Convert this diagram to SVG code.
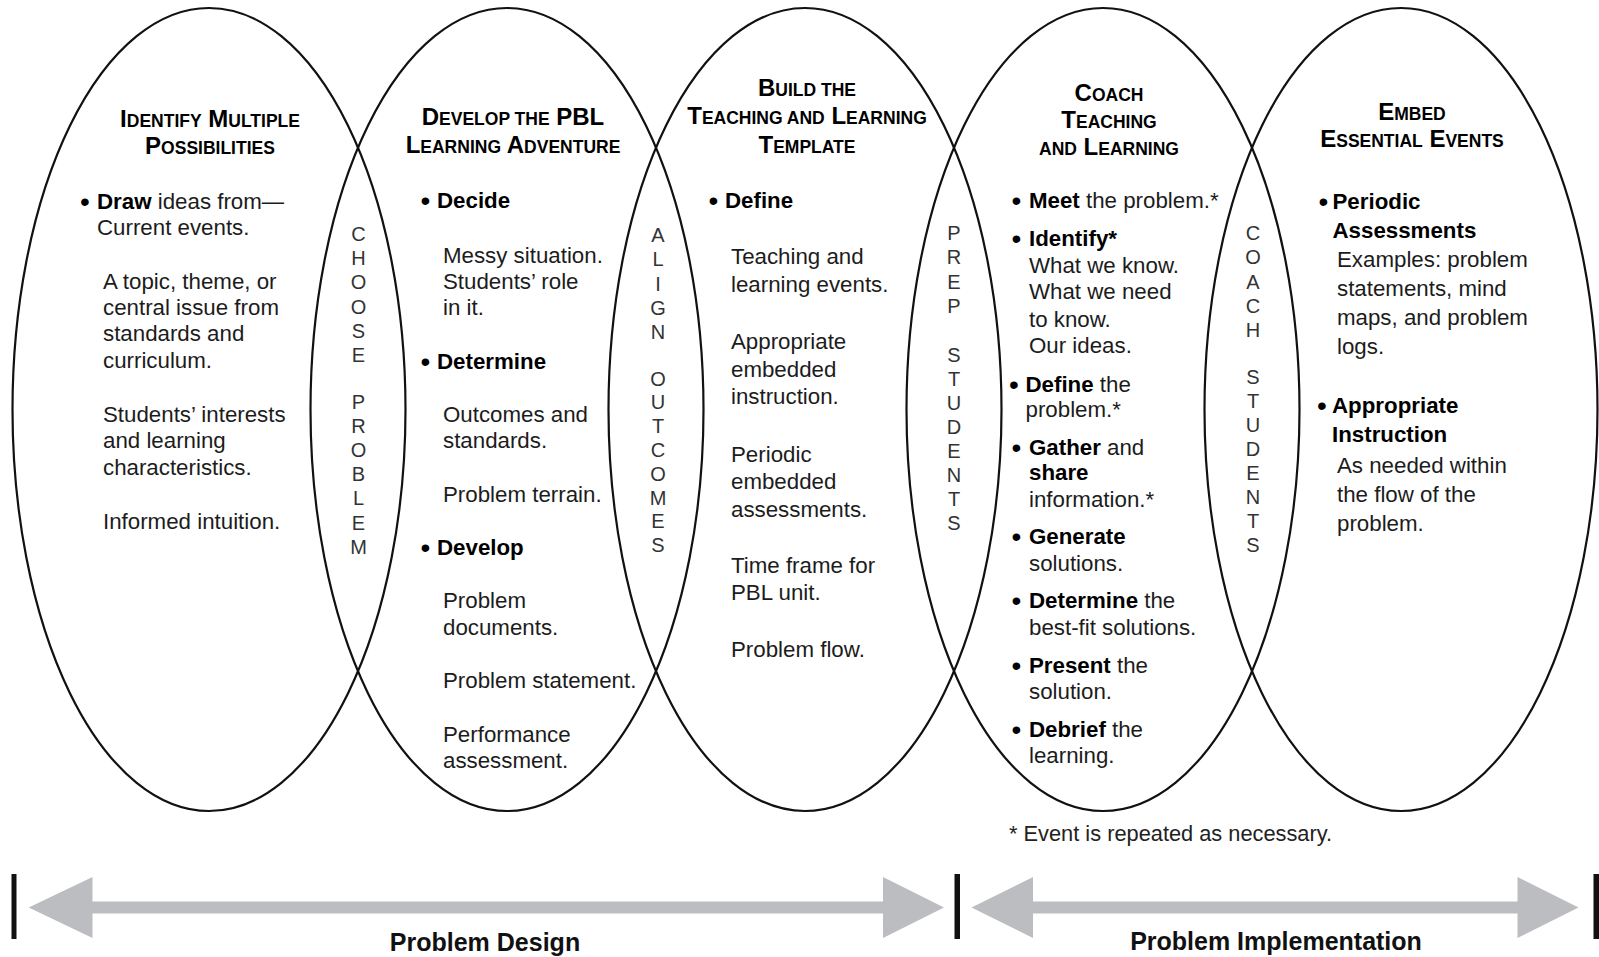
<svg xmlns="http://www.w3.org/2000/svg" width="1599" height="957" viewBox="0 0 1599 957">
  <style>
    .ring { fill: none; stroke: #111; stroke-width: 2.2; }
    .t { font-family: "Liberation Sans", Arial, sans-serif; font-size: 22.3px; fill: #1c1c1c; }
    .k { font-weight: bold; fill: #000; }
    .dot { font-family: "Liberation Sans", Arial, sans-serif; font-size: 28px; fill: #000; }
    .h { font-family: "Liberation Sans", Arial, sans-serif; font-weight: bold; font-size: 24px; fill: #000; text-anchor: middle; }
    .sc { font-size: 17.5px; }
    .v { font-family: "Liberation Sans", Arial, sans-serif; font-size: 20px; fill: #333; text-anchor: middle; }
    .bar { fill: #bcbdc0; }
    .tick { fill: #111; }
    .lbl { font-family: "Liberation Sans", Arial, sans-serif; font-weight: bold; font-size: 25px; fill: #111; text-anchor: middle; }
    .note { font-family: "Liberation Sans", Arial, sans-serif; font-size: 21.8px; fill: #222; }
  </style>

  <!-- Stage 1 -->
  <g id="identify">
    <ellipse class="ring" cx="209" cy="409.5" rx="196.5" ry="401.5"/>
    <text class="h" x="210" y="127">I<tspan class="sc">DENTIFY</tspan> M<tspan class="sc">ULTIPLE</tspan></text>
    <text class="h" x="210" y="154">P<tspan class="sc">OSSIBILITIES</tspan></text>
    <text class="dot" x="80" y="210.5">•</text>
    <text class="t" x="97" y="208.5"><tspan class="k">Draw</tspan> ideas from—</text>
    <text class="t" x="97" y="235">Current events.</text>
    <text class="t" x="103" y="289">A topic, theme, or</text>
    <text class="t" x="103" y="315">central issue from</text>
    <text class="t" x="103" y="341">standards and</text>
    <text class="t" x="103" y="367.5">curriculum.</text>
    <text class="t" x="103" y="421.5">Students’ interests</text>
    <text class="t" x="103" y="448">and learning</text>
    <text class="t" x="103" y="474.5">characteristics.</text>
    <text class="t" x="103" y="528.5">Informed intuition.</text>
  </g>

  <!-- Stage 2 -->
  <g id="develop">
    <ellipse class="ring" cx="507" cy="409.5" rx="196.5" ry="401.5"/>
    <text class="h" x="513" y="125">D<tspan class="sc">EVELOP THE</tspan> PBL</text>
    <text class="h" x="513" y="153">L<tspan class="sc">EARNING</tspan> A<tspan class="sc">DVENTURE</tspan></text>
    <text class="dot" x="420.5" y="210">•</text>
    <text class="t k" x="437" y="208">Decide</text>
    <text class="t" x="443" y="262.5">Messy situation.</text>
    <text class="t" x="443" y="289">Students’ role</text>
    <text class="t" x="443" y="314.5">in it.</text>
    <text class="dot" x="420.5" y="371">•</text>
    <text class="t k" x="437" y="369">Determine</text>
    <text class="t" x="443" y="421.7">Outcomes and</text>
    <text class="t" x="443" y="448">standards.</text>
    <text class="t" x="443" y="501.7">Problem terrain.</text>
    <text class="dot" x="420.5" y="557">•</text>
    <text class="t k" x="437" y="555">Develop</text>
    <text class="t" x="443" y="608">Problem</text>
    <text class="t" x="443" y="634.5">documents.</text>
    <text class="t" x="443" y="688">Problem statement.</text>
    <text class="t" x="443" y="741.7">Performance</text>
    <text class="t" x="443" y="767.5">assessment.</text>
  </g>

  <!-- Stage 3 -->
  <g id="build">
    <ellipse class="ring" cx="805" cy="409.5" rx="196.5" ry="401.5"/>
    <text class="h" x="807" y="96">B<tspan class="sc">UILD THE</tspan></text>
    <text class="h" x="807" y="124">T<tspan class="sc">EACHING AND</tspan> L<tspan class="sc">EARNING</tspan></text>
    <text class="h" x="807" y="153">T<tspan class="sc">EMPLATE</tspan></text>
    <text class="dot" x="708.5" y="210">•</text>
    <text class="t k" x="725" y="208">Define</text>
    <text class="t" x="731" y="264">Teaching and</text>
    <text class="t" x="731" y="291.5">learning events.</text>
    <text class="t" x="731" y="349">Appropriate</text>
    <text class="t" x="731" y="376.7">embedded</text>
    <text class="t" x="731" y="404">instruction.</text>
    <text class="t" x="731" y="461.7">Periodic</text>
    <text class="t" x="731" y="489.3">embedded</text>
    <text class="t" x="731" y="516.7">assessments.</text>
    <text class="t" x="731" y="573.3">Time frame for</text>
    <text class="t" x="731" y="600">PBL unit.</text>
    <text class="t" x="731" y="656.7">Problem flow.</text>
  </g>

  <!-- Stage 4 -->
  <g id="coach">
    <ellipse class="ring" cx="1103" cy="409.5" rx="196.5" ry="401.5"/>
    <text class="h" x="1109" y="101">C<tspan class="sc">OACH</tspan></text>
    <text class="h" x="1109" y="128">T<tspan class="sc">EACHING</tspan></text>
    <text class="h" x="1109" y="155"><tspan class="sc">AND</tspan> L<tspan class="sc">EARNING</tspan></text>
    <text class="dot" x="1011.5" y="210.3">•</text>
    <text class="t" x="1029" y="208.3"><tspan class="k">Meet</tspan> the problem.*</text>
    <text class="dot" x="1011.5" y="248">•</text>
    <text class="t k" x="1029" y="246">Identify*</text>
    <text class="t" x="1029" y="273.3">What we know.</text>
    <text class="t" x="1029" y="299.3">What we need</text>
    <text class="t" x="1029" y="326.7">to know.</text>
    <text class="t" x="1029" y="352.7">Our ideas.</text>
    <text class="dot" x="1009" y="393.7">•</text>
    <text class="t" x="1025.5" y="391.7"><tspan class="k">Define</tspan> the</text>
    <text class="t" x="1025.5" y="416.7">problem.*</text>
    <text class="dot" x="1011.5" y="457">•</text>
    <text class="t" x="1029" y="455"><tspan class="k">Gather</tspan> and</text>
    <text class="t k" x="1029" y="480">share</text>
    <text class="t" x="1029" y="506.7">information.*</text>
    <text class="dot" x="1011.5" y="546">•</text>
    <text class="t k" x="1029" y="544">Generate</text>
    <text class="t" x="1029" y="570.7">solutions.</text>
    <text class="dot" x="1011.5" y="610.3">•</text>
    <text class="t" x="1029" y="608.3"><tspan class="k">Determine</tspan> the</text>
    <text class="t" x="1029" y="635">best-fit solutions.</text>
    <text class="dot" x="1011.5" y="674.7">•</text>
    <text class="t" x="1029" y="672.7"><tspan class="k">Present</tspan> the</text>
    <text class="t" x="1029" y="699.3">solution.</text>
    <text class="dot" x="1011.5" y="738.7">•</text>
    <text class="t" x="1029" y="736.7"><tspan class="k">Debrief</tspan> the</text>
    <text class="t" x="1029" y="763.3">learning.</text>
  </g>

  <!-- Stage 5 -->
  <g id="embed">
    <ellipse class="ring" cx="1401" cy="409.5" rx="196.5" ry="401.5"/>
    <text class="h" x="1412" y="120">E<tspan class="sc">MBED</tspan></text>
    <text class="h" x="1412" y="147">E<tspan class="sc">SSENTIAL</tspan> E<tspan class="sc">VENTS</tspan></text>
    <text class="dot" x="1318.5" y="210.5">•</text>
    <text class="t k" x="1332.5" y="208.5">Periodic</text>
    <text class="t k" x="1332.5" y="237.5">Assessments</text>
    <text class="t" x="1337" y="267">Examples: problem</text>
    <text class="t" x="1337" y="295.5">statements, mind</text>
    <text class="t" x="1337" y="325">maps, and problem</text>
    <text class="t" x="1337" y="353.5">logs.</text>
    <text class="dot" x="1317" y="415.3">•</text>
    <text class="t k" x="1332" y="413.3">Appropriate</text>
    <text class="t k" x="1332" y="441.7">Instruction</text>
    <text class="t" x="1337" y="473">As needed within</text>
    <text class="t" x="1337" y="501.7">the flow of the</text>
    <text class="t" x="1337" y="530.5">problem.</text>
  </g>

  <!-- Transition words set vertically in the overlaps -->
  <g id="choose-problem" class="v">
    <text x="358.5" y="241">C</text>
    <text x="358.5" y="265.2">H</text>
    <text x="358.5" y="289.4">O</text>
    <text x="358.5" y="313.6">O</text>
    <text x="358.5" y="337.8">S</text>
    <text x="358.5" y="362">E</text>
    <text x="358.5" y="408.5">P</text>
    <text x="358.5" y="432.7">R</text>
    <text x="358.5" y="456.9">O</text>
    <text x="358.5" y="481.1">B</text>
    <text x="358.5" y="505.3">L</text>
    <text x="358.5" y="529.5">E</text>
    <text x="358.5" y="553.7">M</text>
  </g>
  <g id="align-outcomes" class="v">
    <text x="658" y="242">A</text>
    <text x="658" y="266.3">L</text>
    <text x="658" y="290.6">I</text>
    <text x="658" y="314.9">G</text>
    <text x="658" y="339.2">N</text>
    <text x="658" y="385.5">O</text>
    <text x="658" y="409.3">U</text>
    <text x="658" y="433.1">T</text>
    <text x="658" y="456.9">C</text>
    <text x="658" y="480.7">O</text>
    <text x="658" y="504.5">M</text>
    <text x="658" y="528.3">E</text>
    <text x="658" y="552.1">S</text>
  </g>
  <g id="prep-students" class="v">
    <text x="954" y="240">P</text>
    <text x="954" y="264.3">R</text>
    <text x="954" y="288.6">E</text>
    <text x="954" y="312.9">P</text>
    <text x="954" y="361.5">S</text>
    <text x="954" y="385.5">T</text>
    <text x="954" y="409.5">U</text>
    <text x="954" y="433.5">D</text>
    <text x="954" y="457.5">E</text>
    <text x="954" y="481.5">N</text>
    <text x="954" y="505.5">T</text>
    <text x="954" y="529.5">S</text>
  </g>
  <g id="coach-students" class="v">
    <text x="1253" y="240">C</text>
    <text x="1253" y="264.3">O</text>
    <text x="1253" y="288.6">A</text>
    <text x="1253" y="312.9">C</text>
    <text x="1253" y="337.2">H</text>
    <text x="1253" y="384">S</text>
    <text x="1253" y="408">T</text>
    <text x="1253" y="432">U</text>
    <text x="1253" y="456">D</text>
    <text x="1253" y="480">E</text>
    <text x="1253" y="504">N</text>
    <text x="1253" y="528">T</text>
    <text x="1253" y="552">S</text>
  </g>

  <text id="footnote" class="note" x="1009" y="840.5">* Event is repeated as necessary.</text>

  <!-- Phase span arrows along the bottom -->
  <g id="connectors">
    <rect class="tick" x="11.5" y="874" width="5" height="65"/>
    <rect class="tick" x="954.5" y="874" width="5.5" height="65"/>
    <rect class="tick" x="1593.5" y="874" width="5.5" height="65"/>
    <polygon class="bar" points="28.7,907.5 92.5,877 92.5,901.5 883,901.5 883,877 944,907.5 883,938 883,913.5 92.5,913.5 92.5,938"/>
    <polygon class="bar" points="971.5,907.5 1033,877 1033,901.5 1517.5,901.5 1517.5,877 1578.5,907.5 1517.5,938 1517.5,913.5 1033,913.5 1033,938"/>
  </g>
  <text id="design-label" class="lbl" x="485" y="951">Problem Design</text>
  <text id="implementation-label" class="lbl" x="1276" y="950">Problem Implementation</text>
</svg>
